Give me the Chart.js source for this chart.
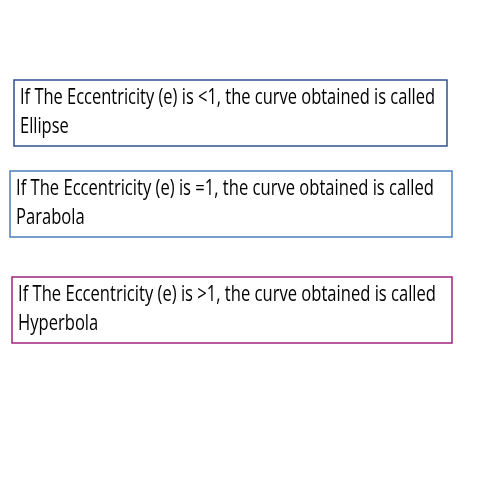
<!DOCTYPE html>
<html><head><script src="https://cdn.jsdelivr.net/npm/chart.js"></script>
<style>html,body{margin:0;background:#fff}#w{width:480px;height:480px}</style></head>
<body><div id="w"><canvas id="c"></canvas></div>
<script>
const line1 = ["If The Eccentricity (e) is <1, the curve obtained is called","If The Eccentricity (e) is =1, the curve obtained is called","If The Eccentricity (e) is >1, the curve obtained is called"];
const line2 = ["Ellipse","Parabola","Hyperbola"];
const boxLeft = [14,10,12];
const boxRight = [447,452,452];
const boxTop = [80,171,277];
const boxBottom = [146,237,343];
const boxColors = ["#2F528F","#4A7EBB","#A0237E"];
const textWidth = [415,418,418];

const boxes = {
  id:'boxes',
  afterDatasetsDraw(chart){
    const {ctx, scales:{x,y}} = chart;
    ctx.save();
    for(let i=0;i<line1.length;i++){
      const l=x.getPixelForValue(boxLeft[i]), r=x.getPixelForValue(boxRight[i]);
      const t=y.getPixelForValue(boxTop[i]), b=y.getPixelForValue(boxBottom[i]);
      ctx.strokeStyle=boxColors[i]; ctx.lineWidth=1.5;
      ctx.strokeRect(l,t,r-l,b-t);
      ctx.fillStyle="#000"; ctx.font="21px 'Open Sans'"; ctx.textBaseline="middle";
      const s=textWidth[i]/ctx.measureText(line1[i]).width;
      [line1[i],line2[i]].forEach((txt,k)=>{
        ctx.save(); ctx.translate(l+6, t+18+k*29); ctx.scale(s,1);
        ctx.fillText(txt,0,0); ctx.restore();
      });
    }
    ctx.restore();
  }
};
new Chart(document.getElementById('c'),{
  type:'scatter',
  data:{datasets:[{data:[],pointRadius:0}]},
  options:{responsive:true,maintainAspectRatio:false,animation:false,
    layout:{padding:0},
    plugins:{legend:{display:false},tooltip:{enabled:false}},
    scales:{x:{type:'linear',min:0,max:480,display:false},
            y:{type:'linear',min:0,max:480,reverse:true,display:false}}},
  plugins:[boxes]
});
</script></body></html>
